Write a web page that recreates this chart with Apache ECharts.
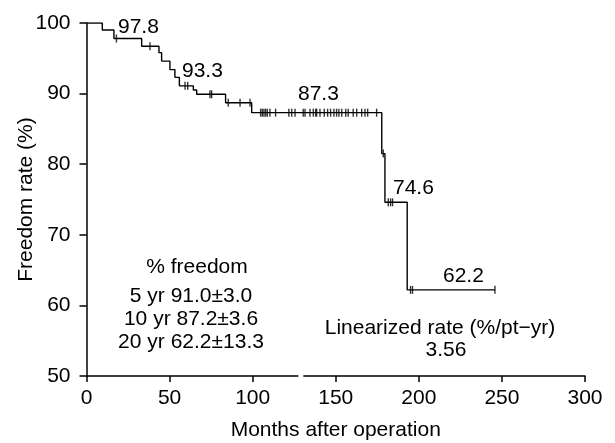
<!DOCTYPE html>
<html><head><meta charset="utf-8">
<script src="https://cdn.jsdelivr.net/npm/echarts@6/dist/echarts.min.js"></script>
<style>html,body{margin:0;padding:0;background:#fff}#c{width:615px;height:443px}</style>
</head><body><div id="c"></div>
<script>
// Kaplan-Meier step function: event times (months) and freedom rate after each event (%)
var eventTimes  = [0, 9.5, 16.5, 33.2, 43.6, 45.2, 50.2, 53.2, 55.9, 64.3, 66.3, 83.7, 99.4, 177.7, 179.6, 193.0, 245.8];
var eventValues = [100, 99.0, 97.8, 96.7, 95.8, 94.6, 93.4, 92.3, 91.1, 90.5, 89.9, 88.7, 87.3, 81.5, 74.6, 62.2, 62.2];
// censored observations (months)
var censorTimes = [18, 38.2, 59.3, 60.9, 74.3, 75.3, 85.3, 92.4, 98.4,
  104.8, 105.8, 106.8, 107.8, 108.8, 110.4, 113.8, 121.8, 123.5, 125.5, 130.4, 131.5, 134.5, 136.5, 137.9,
  138.5, 140.5, 143.1, 145.1, 146.9, 148.9, 150.5, 151.9, 153.6, 156, 157.5, 160.5, 162.6, 165.6, 167.6, 169.2, 174.6,
  178.6, 181.6, 183, 184.2, 195, 196.2, 245.8];
var xTicks = [0, 50, 100, 150, 200, 250, 300];
var yTicks = [50, 60, 70, 80, 90, 100];
var pointLabels = ['97.8', '93.3', '87.3', '74.6', '62.2'];
var freedomLines = ['% freedom', '5 yr 91.0±3.0', '10 yr 87.2±3.6', '20 yr 62.2±13.3'];
var rateLines = ['Linearized rate (%/pt−yr)', '3.56'];

function survAt(t){
  var v = eventValues[0];
  for (var i = 0; i < eventTimes.length; i++){ if (eventTimes[i] <= t) v = eventValues[i]; }
  return v;
}
var curve = eventTimes.map(function(t,i){ return [t, eventValues[i]]; });
var censors = censorTimes.map(function(t){ return [t, survAt(t)]; });

var FONT = 'Liberation Sans, Arial, sans-serif';
var FS = 21;
var gid = 0;
function txt(x, y, s, align){
  return {type:'text', id:'t' + (gid++), x:x, y:y, style:{text:s, fill:'#000', font: FS + 'px ' + FONT, textAlign: align || 'left', textVerticalAlign:'middle'}};
}
var chart = echarts.init(document.getElementById('c'));
chart.setOption({
  animation:false,
  backgroundColor:'#fff',
  grid:{left:86.5, right:30, top:23, bottom:67, outerBoundsMode:'none', containLabel:false},
  xAxis:{type:'value', min:0, max:300, interval:50,
    name:'Months after operation', nameLocation:'middle', nameGap:44, nameMoveOverlap:false,
    nameTextStyle:{color:'#000', fontSize:FS, fontFamily:FONT},
    axisLine:{lineStyle:{color:'#000', width:1.5}},
    axisTick:{length:6, lineStyle:{color:'#000', width:1.5}},
    axisLabel:{color:'#000', fontSize:FS, fontFamily:FONT, margin:12, formatter:function(v){return xTicks.indexOf(v)>=0?String(v):'';}},
    splitLine:{show:false}},
  yAxis:{type:'value', min:50, max:100, interval:10,
    name:'Freedom rate (%)', nameLocation:'middle', nameGap:50, nameMoveOverlap:false,
    nameTextStyle:{color:'#000', fontSize:FS, fontFamily:FONT},
    axisLine:{show:true, lineStyle:{color:'#000', width:1.5}},
    axisTick:{show:true, length:7, lineStyle:{color:'#000', width:1.5}},
    axisLabel:{color:'#000', fontSize:FS, fontFamily:FONT, margin:16, formatter:function(v){return yTicks.indexOf(v)>=0?String(v):'';}},
    splitLine:{show:false}},
  series:[
    {type:'line', step:'end', data:curve, showSymbol:false, symbol:'none',
     lineStyle:{color:'#000', width:1.4}},
    {type:'scatter', data:censors, symbol:'rect', symbolSize:[1.4, 8],
     itemStyle:{color:'#000'}}
  ],
  graphic:[
    txt(118, 27, pointLabels[0]),
    txt(182, 71, pointLabels[1]),
    txt(298, 94, pointLabels[2]),
    txt(393, 188, pointLabels[3]),
    txt(443, 276, pointLabels[4]),
    txt(197, 267, freedomLines[0], 'center'),
    txt(191, 296, freedomLines[1], 'center'),
    txt(191, 319, freedomLines[2], 'center'),
    txt(191, 342, freedomLines[3], 'center'),
    txt(440, 328, rateLines[0], 'center'),
    txt(446, 350, rateLines[1], 'center')
  ]
});
// small gap in the x axis line (as in the original figure)
var p1 = chart.convertToPixel({gridIndex:0}, [127.5, 50]);
var p2 = chart.convertToPixel({gridIndex:0}, [130.5, 50]);
chart.setOption({graphic:[{type:'rect', id:'gap', shape:{x:p1[0], y:p1[1]-2, width:p2[0]-p1[0], height:4}, style:{fill:'#fff'}, z:100}]});
</script></body></html>
